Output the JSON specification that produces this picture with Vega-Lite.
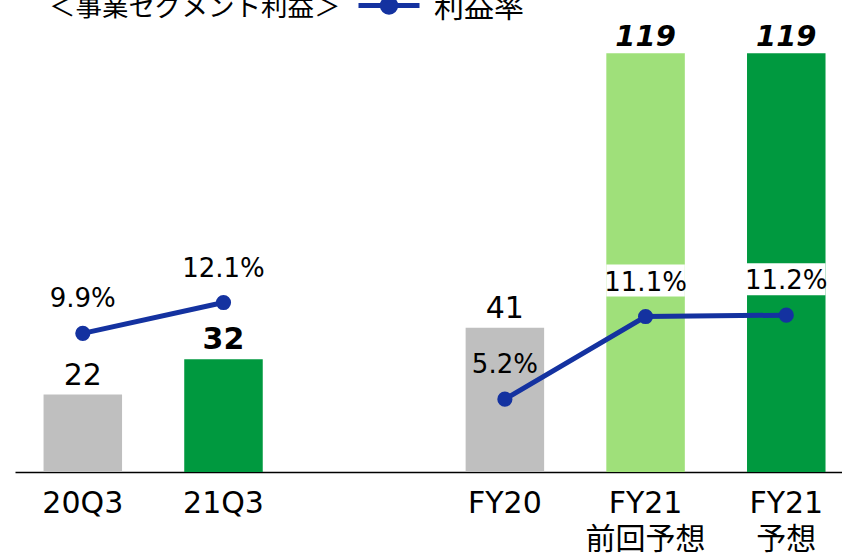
{
  "$schema": "https://vega.github.io/schema/vega-lite/v6.json",
  "autosize": "none",
  "width": 827,
  "height": 472,
  "padding": {"left": 15, "top": 0, "right": 0, "bottom": 83},
  "background": "white",
  "config": {"view": {"stroke": null}, "font": "DejaVu Sans, Noto Sans CJK JP"},
  "data": {"values": [
    {"cat": "20Q3", "grp": "Q", "value": 22, "rate": 0.099},
    {"cat": "21Q3", "grp": "Q", "value": 32, "rate": 0.121},
    {"cat": "FY20", "grp": "FY", "value": 41, "rate": 0.052},
    {"cat": "FY21 前回予想", "grp": "FY", "value": 119, "rate": 0.111},
    {"cat": "FY21 予想", "grp": "FY", "value": 119, "rate": 0.112}
  ]},
  "encoding": {
    "x": {
      "field": "cat", "type": "nominal",
      "scale": {"domain": ["20Q3", "21Q3", "gap", "FY20", "FY21 前回予想", "FY21 予想"], "paddingInner": 0.442, "paddingOuter": 0.16, "align": 0.634},
      "axis": {"title": null, "domainColor": "#000000", "domainWidth": 1.5, "ticks": false, "grid": false, "labelAngle": 0, "labelFontSize": 30, "labelFont": "DejaVu Sans, Noto Sans CJK JP", "labelColor": "#000000", "labelPadding": 16, "labelLineHeight": 36, "labelOverlap": false, "labelBound": false, "labelLimit": 0, "labelExpr": "datum.label == 'gap' ? '' : split(datum.label, ' ')"}
    }
  },
  "layer": [
    {
      "layer": [
        {
          "mark": {"type": "bar"},
          "encoding": {
            "y": {"field": "value", "type": "quantitative", "scale": {"domain": [0, 134.1], "nice": false, "zero": true}, "axis": null},
            "color": {"field": "cat", "type": "nominal", "scale": {"domain": ["20Q3", "21Q3", "FY20", "FY21 前回予想", "FY21 予想"], "range": ["#BFBFBF", "#00993F", "#BFBFBF", "#9FE07A", "#00993F"]}, "legend": null}
          }
        },
        {
          "transform": [{"filter": "datum.cat == '20Q3' || datum.cat == 'FY20'"}],
          "mark": {"type": "text", "baseline": "alphabetic", "dy": -10, "fontSize": 30, "color": "#000000"},
          "encoding": {
            "y": {"field": "value", "type": "quantitative", "scale": {"domain": [0, 134.1], "nice": false}, "axis": null},
            "text": {"field": "value", "type": "quantitative"}
          }
        },
        {
          "transform": [{"filter": "datum.cat == '21Q3'"}],
          "mark": {"type": "text", "baseline": "alphabetic", "dy": -10, "fontSize": 30, "fontWeight": "bold", "color": "#000000"},
          "encoding": {
            "y": {"field": "value", "type": "quantitative", "scale": {"domain": [0, 134.1], "nice": false}, "axis": null},
            "text": {"field": "value", "type": "quantitative"}
          }
        },
        {
          "transform": [{"filter": "datum.value > 100"}],
          "mark": {"type": "text", "baseline": "alphabetic", "dy": -7, "fontSize": 29, "fontWeight": "bold", "fontStyle": "italic", "color": "#000000"},
          "encoding": {
            "y": {"field": "value", "type": "quantitative", "scale": {"domain": [0, 134.1], "nice": false}, "axis": null},
            "text": {"field": "value", "type": "quantitative"}
          }
        }
      ]
    },
    {
      "layer": [
        {
          "transform": [{"filter": "datum.value > 100"}],
          "mark": {"type": "bar", "color": "white", "yOffset": -20, "y2Offset": -52},
          "encoding": {
            "y": {"field": "rate", "type": "quantitative", "scale": {"domain": [0, 0.337], "nice": false}, "axis": null},
            "y2": {"field": "rate"}
          }
        },
        {
          "mark": {"type": "line", "strokeWidth": 5},
          "encoding": {
            "y": {"field": "rate", "type": "quantitative", "scale": {"domain": [0, 0.337], "nice": false}, "axis": null},
            "detail": {"field": "grp", "type": "nominal"},
            "stroke": {"datum": "利益率", "scale": {"range": ["#1432A0"]}, "legend": {
              "orient": "none", "legendX": 34, "legendY": -25, "direction": "horizontal",
              "title": ["", "＜事業セグメント利益＞"], "titleLineHeight": 18, "titleOrient": "left", "titleAnchor": "middle", "titleBaseline": "middle", "titleFontSize": 26.5, "titleFontWeight": "normal", "titleFont": "DejaVu Sans, Noto Sans CJK JP", "titleColor": "#000000", "titlePadding": 15, "titleLimit": 500,
              "labelFontSize": 30, "labelFont": "DejaVu Sans, Noto Sans CJK JP", "labelColor": "#000000", "labelOffset": 12, "labelLimit": 300,
              "symbolType": "M-1,-0.08L1,-0.08M-0.22,-0.08A0.22,0.22,0,1,1,0.22,-0.08A0.22,0.22,0,1,1,-0.22,-0.08Z", "symbolSize": 3721, "symbolStrokeWidth": 5, "symbolFillColor": "#1432A0", "symbolStrokeColor": "#1432A0", "padding": 0
            }}
          }
        },
        {
          "mark": {"type": "point", "filled": true, "opacity": 1, "size": 230, "color": "#1432A0"},
          "encoding": {
            "y": {"field": "rate", "type": "quantitative", "scale": {"domain": [0, 0.337], "nice": false}, "axis": null}
          }
        },
        {
          "mark": {"type": "text", "baseline": "alphabetic", "dy": -26, "fontSize": 26, "color": "#000000"},
          "encoding": {
            "y": {"field": "rate", "type": "quantitative", "scale": {"domain": [0, 0.337], "nice": false}, "axis": null},
            "text": {"field": "rate", "type": "quantitative", "format": ".1%"}
          }
        }
      ]
    }
  ],
  "resolve": {"scale": {"y": "independent"}, "axis": {"y": "independent"}}
}
